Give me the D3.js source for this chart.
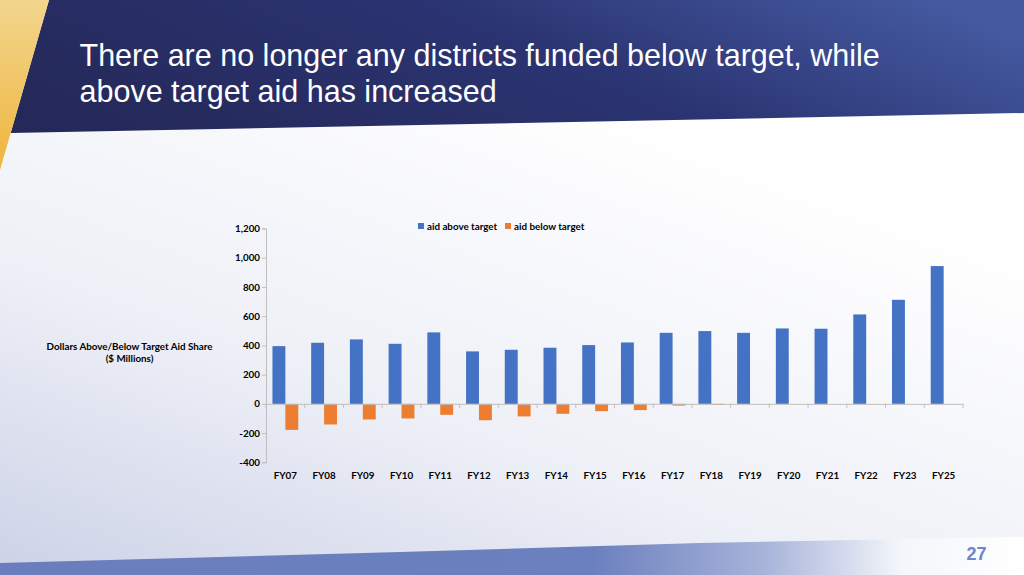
<!DOCTYPE html>
<html>
<head>
<meta charset="utf-8">
<script src="https://cdn.jsdelivr.net/npm/d3@7/dist/d3.min.js"></script>
<style>
  html, body { margin: 0; padding: 0; background: #ffffff; }
  svg { display: block; }
</style>
</head>
<body>
<svg id="slide" width="1024" height="575"></svg>
<script>
// ---- data ----
const categories = ["FY07","FY08","FY09","FY10","FY11","FY12","FY13","FY14","FY15","FY16","FY17","FY18","FY19","FY20","FY21","FY22","FY23","FY25"];
const aidAbove = [395, 418, 441, 411, 489, 359, 370, 384, 402, 420, 486, 498, 486, 516, 514, 612, 712, 943];
const aidBelow = [-178, -141, -107, -100, -75, -112, -86, -68, -50, -43, -12, -7, 0, 0, 0, 0, 0, 0];
const seriesNames = ["aid above target", "aid below target"];
const yTicks = [-400, -200, 0, 200, 400, 600, 800, 1000, 1200];
const titleLines = ["There are no longer any districts funded below target, while", "above target aid has increased"];
const yTitleLines = ["Dollars Above/Below Target Aid Share", "($ Millions)"];
const pageNumber = "27";

(function () {
const colors = ["#4472c4", "#ed7d31"];

const svg = d3.select("#slide");
const W = 1024, H = 575;
const defs = svg.append("defs");

// background gradient
const bg = defs.append("linearGradient").attr("id", "bgGrad")
  .attr("x1", 0).attr("y1", 1).attr("x2", 0.55).attr("y2", 0.15);
bg.append("stop").attr("offset", 0).attr("stop-color", "#ccd2e7");
bg.append("stop").attr("offset", 0.45).attr("stop-color", "#eef0f7");
bg.append("stop").attr("offset", 1).attr("stop-color", "#ffffff");
svg.append("rect").attr("width", W).attr("height", H).attr("fill", "url(#bgGrad)");

// header navy band
const navy = defs.append("linearGradient").attr("id", "navyGrad")
  .attr("x1", 0).attr("y1", 0.6).attr("x2", 1).attr("y2", 0.3);
navy.append("stop").attr("offset", 0).attr("stop-color", "#25295a");
navy.append("stop").attr("offset", 0.55).attr("stop-color", "#2b3472");
navy.append("stop").attr("offset", 1).attr("stop-color", "#4459a0");
svg.append("path")
  .attr("d", "M49,0 L1024,0 L1024,113 L10.7,133 Z")
  .attr("fill", "url(#navyGrad)");

// gold wedge
const gold = defs.append("linearGradient").attr("id", "goldGrad")
  .attr("x1", 0).attr("y1", 0).attr("x2", 0).attr("y2", 1);
gold.append("stop").attr("offset", 0).attr("stop-color", "#f3d68e");
gold.append("stop").attr("offset", 1).attr("stop-color", "#efb53e");
svg.append("path")
  .attr("d", "M0,0 L49,0 L0,170 Z")
  .attr("fill", "url(#goldGrad)");

// bottom blue band
const band = defs.append("linearGradient").attr("id", "bandGrad")
  .attr("x1", 0).attr("y1", 0).attr("x2", 1).attr("y2", 0);
band.append("stop").attr("offset", 0).attr("stop-color", "#6a7ebd");
band.append("stop").attr("offset", 0.58).attr("stop-color", "#6b80be");
band.append("stop").attr("offset", 0.75).attr("stop-color", "#a9b5da");
band.append("stop").attr("offset", 0.88).attr("stop-color", "#f4f6fb");
band.append("stop").attr("offset", 1).attr("stop-color", "#ffffff");
svg.append("path")
  .attr("d", "M0,563 L400,552 L700,543 L1024,537 L1024,575 L0,575 Z")
  .attr("fill", "url(#bandGrad)");

// title
const title = svg.append("text")
  .attr("font-family", "'Liberation Sans', Arial, sans-serif")
  .attr("font-size", 30.5)
  .attr("fill", "#ffffff");
titleLines.forEach((t, i) => {
  title.append("tspan").attr("x", 79.5).attr("y", 65.5 + i * 36.5).text(t);
});

// page number
svg.append("text")
  .attr("x", 986.5).attr("y", 560)
  .attr("text-anchor", "end")
  .attr("font-family", "'Liberation Sans', Arial, sans-serif")
  .attr("font-weight", 700)
  .attr("font-size", 18)
  .attr("fill", "#6d85cc")
  .text(pageNumber);

// ---- chart ----
const pLeft = 266, pRight = 963, pTop = 228.5, pBottom = 462.3;
const y = d3.scaleLinear().domain([-400, 1200]).range([pBottom, pTop]);
const x = d3.scaleBand().domain(categories).range([pLeft, pRight]).padding(0);
const bw = x.bandwidth();
const x1 = d3.scaleBand().domain(seriesNames).range([bw / 6, bw * 5 / 6]).padding(0);

const fontChart = "Lato, 'Open Sans', sans-serif";
const fs = 9.8;
const axisColor = "#bfbfbf";
const fmt = d3.formatLocale({ decimal: ".", thousands: ",", grouping: [3], currency: ["$", ""], minus: "-" }).format(",");

// y axis
const yAxis = svg.append("g")
  .attr("transform", `translate(${pLeft},0)`)
  .call(d3.axisLeft(y).tickValues(yTicks).tickSize(4).tickPadding(2).tickFormat(fmt));
yAxis.select(".domain").attr("stroke", axisColor);
yAxis.selectAll(".tick line").attr("stroke", axisColor);
yAxis.selectAll(".tick text")
  .attr("font-family", fontChart).attr("font-weight", 700).attr("font-size", fs).attr("fill", "#000");

// bars
const seriesData = [aidAbove, aidBelow];
seriesData.forEach((vals, si) => {
  svg.append("g").selectAll("rect")
    .data(categories.map((c, i) => ({ c, v: vals[i] })))
    .join("rect")
    .attr("x", d => x(d.c) + x1(seriesNames[si]))
    .attr("width", x1.bandwidth())
    .attr("y", d => y(Math.max(0, d.v)))
    .attr("height", d => Math.abs(y(d.v) - y(0)))
    .attr("fill", colors[si]);
});

// x axis (at zero)
const xAxis = svg.append("g").attr("transform", `translate(0,${y(0)})`)
  .call(d3.axisBottom(x).tickSize(0).tickPadding(0).tickFormat(""));
xAxis.select(".domain").attr("stroke", axisColor);
const bounds = categories.map(c => x(c)).concat([pRight]);
xAxis.selectAll("line.bound").data(bounds).join("line")
  .attr("class", "bound")
  .attr("x1", d => d).attr("x2", d => d)
  .attr("y1", 0).attr("y2", 4)
  .attr("stroke", axisColor);

// category labels at bottom
svg.append("g").selectAll("text")
  .data(categories).join("text")
  .attr("x", d => x(d) + bw / 2)
  .attr("y", 479.3)
  .attr("text-anchor", "middle")
  .attr("font-family", fontChart).attr("font-weight", 700).attr("font-size", fs)
  .attr("fill", "#000")
  .text(d => d);

// y title
const yt = svg.append("text")
  .attr("text-anchor", "middle")
  .attr("font-family", fontChart).attr("font-weight", 700).attr("font-size", fs)
  .attr("fill", "#000");
yTitleLines.forEach((t, i) => {
  yt.append("tspan").attr("x", 129.5).attr("y", 349.5 + i * 12.5).text(t);
});

// legend
const legendX = [418, 505];
seriesNames.forEach((s, i) => {
  svg.append("rect").attr("x", legendX[i]).attr("y", 223).attr("width", 6).attr("height", 6)
    .attr("fill", colors[i]);
  svg.append("text").attr("x", legendX[i] + 9).attr("y", 229.5)
    .attr("font-family", fontChart).attr("font-weight", 700).attr("font-size", fs)
    .attr("fill", "#000").text(s);
});
})();
</script>
</body>
</html>
